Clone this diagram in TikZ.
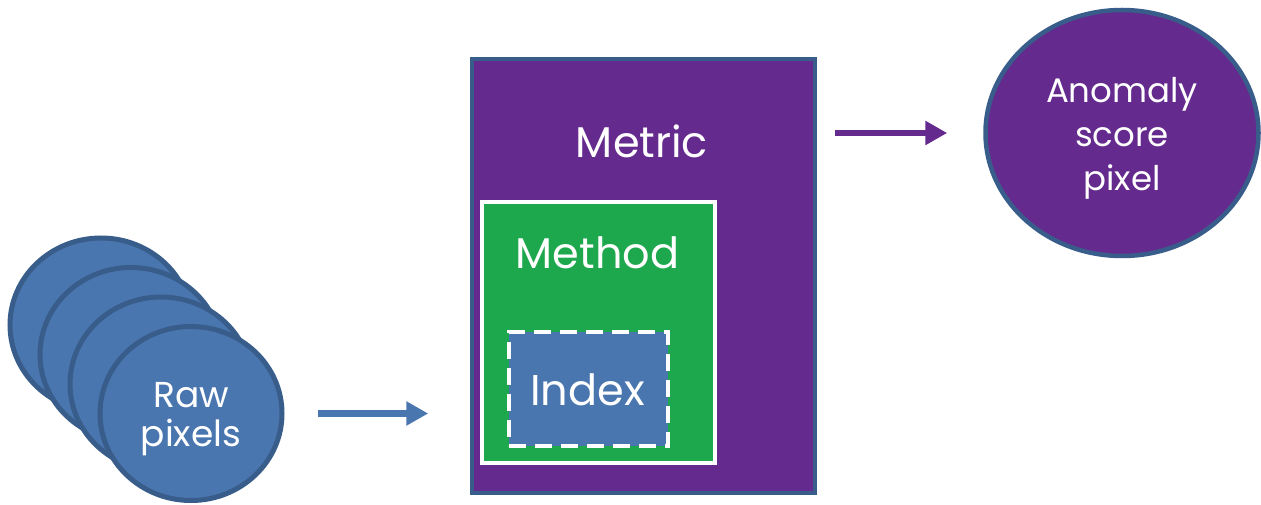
\documentclass[tikz,border=0pt]{standalone}
\usepackage{fontspec}
\setmainfont{Poppins}
\usepackage{tikz}
\usetikzlibrary{positioning,shapes.geometric,arrows.meta}

\definecolor{pixblue}{HTML}{4A76B0}
\definecolor{edgeblue}{HTML}{385D8A}
\definecolor{metricpurple}{HTML}{652A8E}
\definecolor{methodgreen}{HTML}{1EA84D}

\tikzset{
  pix/.style={ellipse,draw=edgeblue,line width=5pt,fill=pixblue,
    minimum width=182pt,minimum height=174pt,inner sep=0pt},
  roundtxt/.style={text=white,align=center,inner sep=0pt},
  bigtxt/.style={text=white,anchor=base,inner sep=0pt,
    font=\fontsize{43}{48}\selectfont},
  flow/.style={line width=6.5pt,-{Triangle[length=22pt,width=23pt]}}
}

\begin{document}
\begin{tikzpicture}[x=1pt,y=-1pt,node distance=30pt,on grid]
\useasboundingbox (0,0) rectangle (1261,505);

% stack of pixel discs, back to front
\node[pix] (raw_1) at (101,325) {};
\node[pix] (raw_2) [below right=29.5pt and 30pt of raw_1] {};
\node[pix] (raw_3) [below right=29.5pt and 30pt of raw_2] {};
\node[pix] (raw_4) [below right=29.5pt and 30pt of raw_3] {};
\node[roundtxt,font=\fontsize{36}{39}\selectfont]
  (raw_txt) at ([yshift=-6pt]raw_4.center) {Raw\\pixels};

% nested boxes
\node[draw=edgeblue,line width=3.5pt,fill=metricpurple,
  minimum width=343pt,minimum height=434pt] (metric) at (643.5,276) {};
\node[bigtxt] (metric_lbl) at (642,158) {Metric};
\node[draw=white,line width=4.5pt,fill=methodgreen,
  minimum width=233pt,minimum height=261pt] (method) at (598.5,332.5) {};
\node[bigtxt] (method_lbl) at (597.5,269) {Method};
\node[draw=white,line width=4.5pt,dash pattern=on 17pt off 9pt,fill=pixblue,
  minimum width=159pt,minimum height=114pt] (index) at (588.5,389) {};
\node[bigtxt] (index_lbl) at (587.5,405) {Index};

\node[ellipse,draw=edgeblue,line width=4.5pt,fill=metricpurple,
  minimum width=273pt,minimum height=246pt,inner sep=0pt] (score) at (1122,133) {};
\node[roundtxt,font=\fontsize{34}{44}\selectfont]
  (score_txt) at ([yshift=-5pt]score.center) {Anomaly\\score\\pixel};

\draw[flow,pixblue,shorten <=33pt,shorten >=42pt]
  (raw_4.east) -- (raw_4.east -| metric.west);
\draw[flow,metricpurple,shorten <=18pt,shorten >=36pt]
  (score.west -| metric.east) -- (score.west);
\end{tikzpicture}
\end{document}
